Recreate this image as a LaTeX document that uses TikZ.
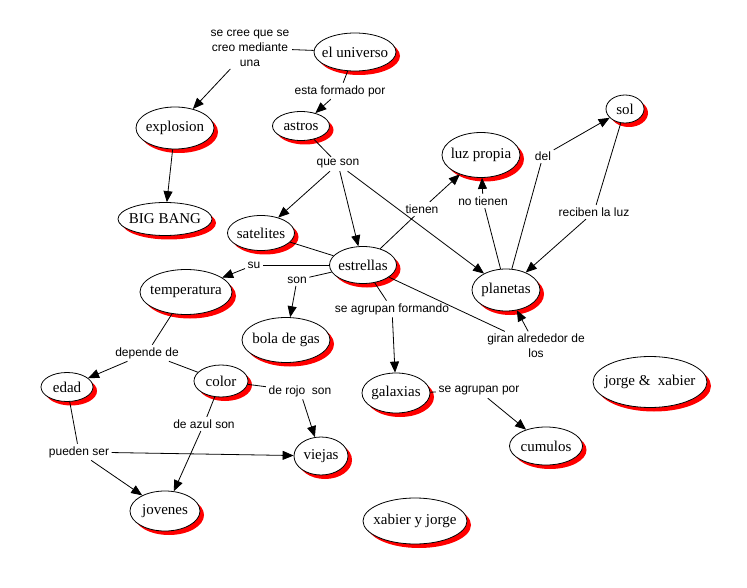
\documentclass[tikz,border=0pt]{standalone}
\usepackage{fontspec}
\setmainfont{Liberation Serif}
\newfontfamily\linkfont{Liberation Sans}
\usetikzlibrary{shapes.geometric,shadows,arrows.meta}
\tikzset{
 concept/.style={ellipse, draw=black, line width=0.8pt, fill=white, inner sep=0pt,
   font=\fontsize{15}{18}\selectfont,
   drop shadow={shadow xshift=4pt, shadow yshift=-4pt, fill=red, opacity=1, draw=none}},
 linkw/.style={inner sep=2.5pt, font=\linkfont\fontsize{12}{15}\selectfont, align=center},
 conn/.style={line width=0.8pt, draw=black},
 arr/.style={conn, -{Triangle[length=11pt,width=9pt]}}
}
\newcommand{\cpt}[6]{\node[concept, minimum width=#4pt, minimum height=#5pt] (#1) at (#2,#3) {\makebox[0pt]{#6}};}
\begin{document}
\begin{tikzpicture}[x=1pt,y=-1pt]
\fill[white] (0,0) rectangle (747,588);
\path[use as bounding box] (0,0) rectangle (747,588);
% concepts
\cpt{univ}{355}{52}{82}{38}{el universo}
\cpt{explosion}{175}{128}{78}{42}{explosion}
\cpt{bigbang}{165}{219}{94}{33}{BIG BANG}
\cpt{astros}{301}{126}{57}{29}{astros}
\cpt{satelites}{261}{233}{67}{35}{satelites}
\cpt{estrellas}{363}{265}{67}{37}{estrellas}
\cpt{luz}{481}{155}{78}{45}{luz propia}
\cpt{planetas}{506}{290}{68}{42}{planetas}
\cpt{sol}{625}{109}{38}{28}{sol}
\cpt{temp}{186}{292}{92}{45}{temperatura}
\cpt{bola}{286}{340}{88}{45}{bola de gas}
\cpt{galaxias}{396}{393}{68}{40}{galaxias}
\cpt{cumulos}{546}{446}{73}{38}{cumulos}
\cpt{jx}{650}{382}{114}{51}{jorge \&~ xabier}
\cpt{xj}{415}{521}{104}{46}{xabier y jorge}
\cpt{edad}{67}{387}{52}{29}{edad}
\cpt{color}{221}{381}{54}{32}{color}
\cpt{viejas}{321}{456}{54}{38}{viejas}
\cpt{jovenes}{165}{511}{70}{40}{jovenes}
% linking words
\node[linkw] (lcree) at (250,48) {se cree que se\\creo mediante\\una};
\node[linkw] (lformado) at (340,91) {esta formado por};
\node[linkw] (lqueson) at (338,164) {que son};
\node[linkw] (ltienen) at (422,209) {tienen};
\node[linkw] (lnotienen) at (483,201) {no tienen};
\node[linkw] (ldel) at (543,156) {del};
\node[linkw] (lreciben) at (594,212) {reciben la luz};
\node[linkw] (lsu) at (254,265) {su};
\node[linkw] (lson) at (297,280) {son};
\node[linkw] (lformando) at (392,309) {se agrupan formando};
\node[linkw] (lgiran) at (536,346) {giran alrededor de\\los};
\node[linkw] (lpor) at (479,391) {se agrupan por};
\node[linkw] (ldepende) at (147,353) {depende de};
\node[linkw] (lrojo) at (300,391) {de rojo~ son};
\node[linkw] (lazul) at (204,424) {de azul son};
\node[linkw] (lpueden) at (79,452) {pueden ser};
% connectors
\draw[conn] (univ) -- (lcree); \draw[arr] (lcree) -- (explosion);
\draw[conn] (univ) -- (lformado); \draw[arr] (lformado) -- (astros);
\draw[arr] (explosion) -- (bigbang);
\draw[conn] (astros) -- (lqueson);
\draw[arr] (lqueson) -- (satelites);
\draw[arr] (lqueson) -- (estrellas);
\draw[arr] (lqueson) -- (planetas);
\draw[conn] (satelites) -- (estrellas);
\draw[conn] (estrellas) -- (ltienen); \draw[arr] (ltienen) -- (luz);
\draw[conn] (planetas) -- (lnotienen); \draw[arr] (lnotienen) -- (luz);
\draw[conn] (planetas) -- (ldel); \draw[arr] (ldel) -- (sol);
\draw[conn] (sol) -- (lreciben); \draw[arr] (lreciben) -- (planetas);
\draw[conn] (estrellas) -- (lsu); \draw[arr] (lsu) -- (temp);
\draw[conn] (estrellas) -- (lson); \draw[arr] (lson) -- (bola);
\draw[conn] (estrellas) -- (lformando); \draw[arr] (lformando) -- (galaxias);
\draw[conn] (estrellas) -- (lgiran); \draw[arr] (lgiran) -- (planetas);
\draw[conn] (galaxias) -- (lpor); \draw[arr] (lpor) -- (cumulos);
\draw[conn] (temp) -- (ldepende); \draw[arr] (ldepende) -- (edad); \draw[conn] (ldepende) -- (color);
\draw[conn] (color) -- (lrojo); \draw[arr] (lrojo) -- (viejas);
\draw[conn] (color) -- (lazul); \draw[arr] (lazul) -- (jovenes);
\draw[conn] (edad) -- (lpueden); \draw[arr] (lpueden) -- (viejas); \draw[arr] (lpueden) -- (jovenes);
\end{tikzpicture}
\end{document}
